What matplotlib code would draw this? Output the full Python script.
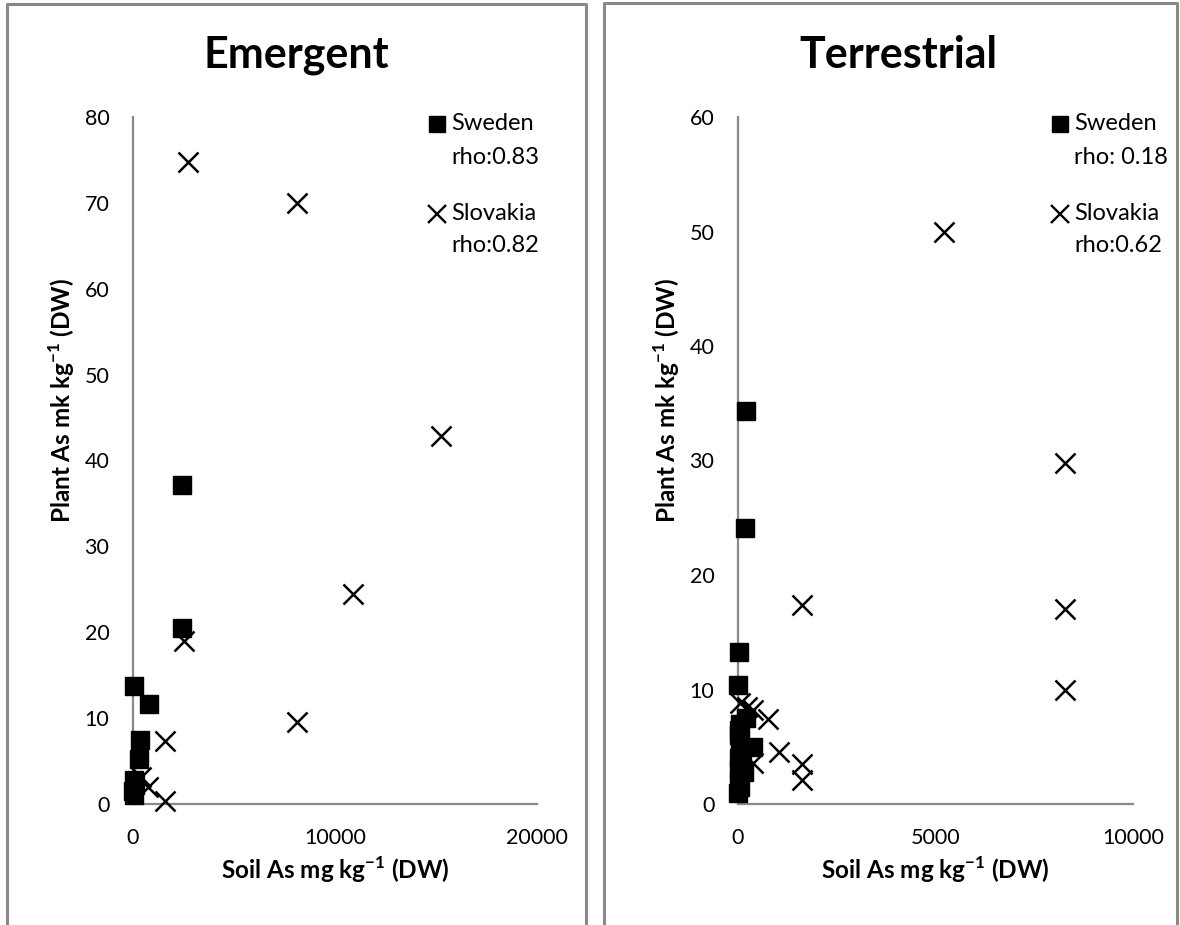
import numpy as np
import matplotlib.pyplot as plt
from matplotlib.lines import Line2D

plt.rcParams['font.family'] = ['Lato', 'DejaVu Sans']
plt.rcParams['mathtext.fontset'] = 'custom'
plt.rcParams['mathtext.rm'] = 'Lato'
plt.rcParams['mathtext.bf'] = 'Lato:bold'

### Emergent ###
em_swe_x = [2420, 2420, 60, 810, 360, 310, 40, 80, 20, 60]
em_swe_y = [37.1, 20.5, 13.7, 11.6, 7.5, 5.2, 2.8, 2.2, 1.5, 1.0]
em_svk_x = [2720, 8100, 15250, 10900, 2500, 8100, 1600, 400, 760, 1600]
em_svk_y = [74.8, 70.0, 42.9, 24.4, 19.0, 9.6, 7.3, 3.1, 2.0, 0.4]

### Terrestrial ###
te_swe_x = [200, 180, 30, 10, 200, 50, 30, 380, 20, 40, 60, 20, 100, 30, 150, 20, 50, 10]
te_swe_y = [34.3, 24.1, 13.3, 10.4, 7.5, 7.0, 6.5, 5.0, 6.0, 5.5, 4.5, 4.0, 3.5, 3.0, 2.8, 2.0, 1.5, 1.0]
te_svk_x = [5210, 8270, 1610, 8270, 8270, 50, 220, 380, 770, 1040, 390, 1610, 1610]
te_svk_y = [50.0, 29.8, 17.4, 17.0, 10.0, 8.8, 8.5, 8.2, 7.4, 4.5, 3.6, 3.5, 2.1]

panels = [
    ('Emergent', em_swe_x, em_swe_y, em_svk_x, em_svk_y, 20000, [0, 10000, 20000], 80,
     ['rho:0.83', 'rho:0.82']),
    ('Terrestrial', te_swe_x, te_swe_y, te_svk_x, te_svk_y, 10000, [0, 5000, 10000], 60,
     ['rho: 0.18', 'rho:0.62']),
]

W, H = 1180, 925
fig = plt.figure(figsize=(W / 100, H / 100), dpi=100)

def fx(px):
    return px / W

def fy(py):
    return 1 - py / H

grey = '#898989'

# panel frames (open at the bottom)
for x0, x1, top in [(7, 586, 4), (604, 1177, 3)]:
    fig.add_artist(Line2D([fx(x0), fx(x0), fx(x1), fx(x1)], [0, fy(top), fy(top), 0],
                          color=grey, lw=2.2))

ax_px = [(133, 537), (738, 1133)]
title_x = [296, 898]
leg_x = [437, 1060]

for (title, sx, sy, kx, ky, xmax, xticks, ymax, rhos), (a0, a1), tx, lx in zip(panels, ax_px, title_x, leg_x):
    w = a1 - a0
    ax = fig.add_axes([fx(a0), fy(804), fx(w), (804 - 117) / H])
    ax.plot(sx, sy, 's', color='black', ms=13.5, ls='none', clip_on=False)
    ax.plot(kx, ky, 'x', color='black', ms=14, mew=1.8, ls='none', clip_on=False)
    ax.set_xlim(0, xmax)
    ax.set_ylim(0, ymax)
    ax.set_xticks(xticks)
    ax.set_yticks(np.arange(0, ymax + 1, 10))
    for s in ['top', 'right']:
        ax.spines[s].set_visible(False)
    for s in ['left', 'bottom']:
        ax.spines[s].set_color(grey)
        ax.spines[s].set_linewidth(1.6)
        ax.spines[s].set_zorder(0)
    ax.tick_params(length=0, labelsize=15.5, pad=17)
    ax.set_xlabel('Soil As mg kg$^{\\mathbf{-1}}$ (DW)', fontsize=17.5, fontweight='bold', va='center')
    ax.set_ylabel('Plant As mk kg$^{\\mathbf{-1}}$ (DW)', fontsize=17.5, fontweight='bold', va='center')
    ax.xaxis.set_label_coords(0.5, (804 - 870) / 687)
    ax.yaxis.set_label_coords(-71 / w, (804 - 400) / 687)
    fig.text(fx(tx), fy(55), title, fontsize=31, fontweight='bold', ha='center', va='center')

    # legend
    fig.add_artist(Line2D([fx(lx)], [fy(124)], marker='s', color='black', ms=12, ls='none'))
    fig.add_artist(Line2D([fx(lx)], [fy(214)], marker='x', color='black', ms=12.5, mew=1.7, ls='none'))
    fig.text(fx(lx + 14), fy(124), 'Sweden', fontsize=17, va='center')
    fig.text(fx(lx + 14), fy(157), rhos[0], fontsize=17, va='center')
    fig.text(fx(lx + 14), fy(214), 'Slovakia', fontsize=17, va='center')
    fig.text(fx(lx + 14), fy(246), rhos[1], fontsize=17, va='center')

fig.savefig('out.png', dpi=100)
